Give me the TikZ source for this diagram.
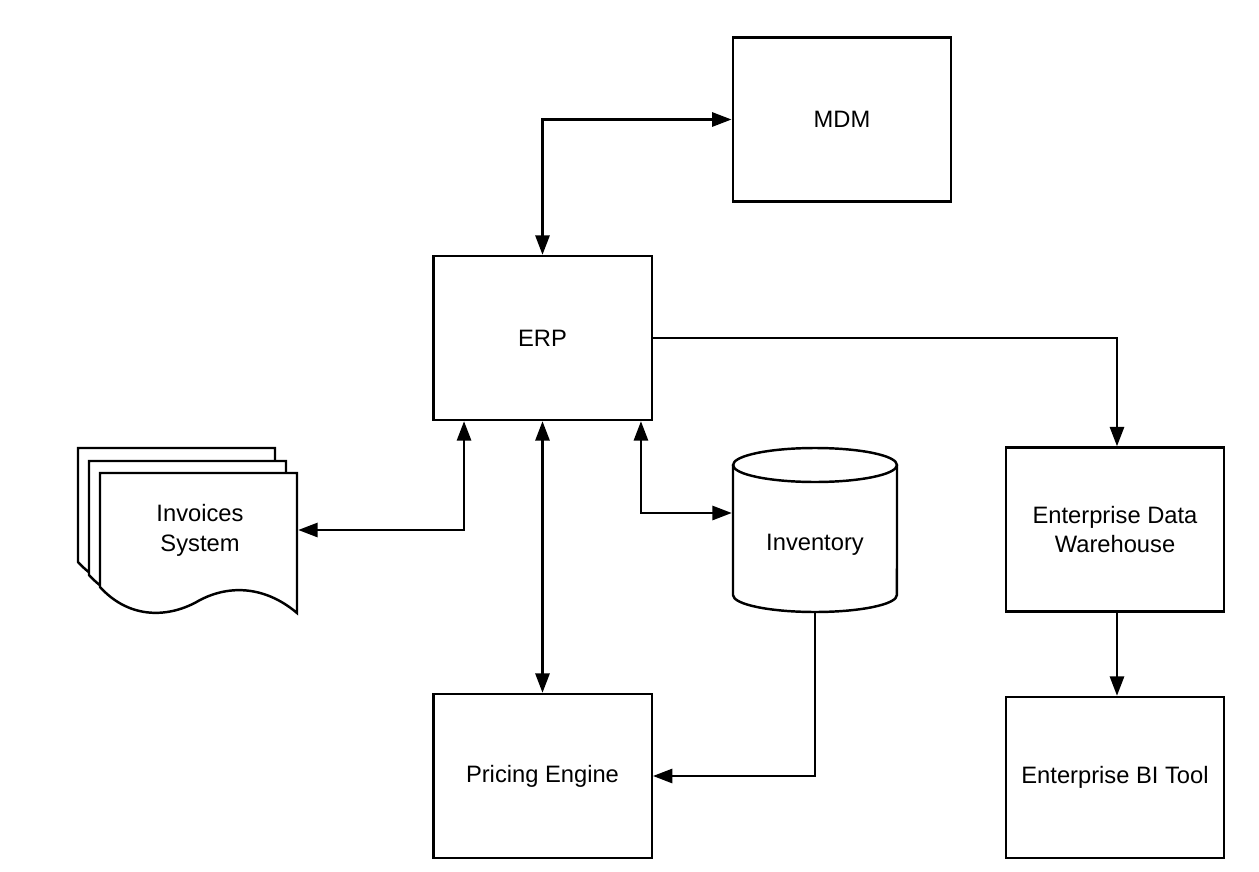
\documentclass[tikz,border=0pt]{standalone}
\usepackage{fontspec}
\setmainfont{Liberation Sans}
\usetikzlibrary{arrows.meta,calc}
\begin{document}
\begin{tikzpicture}[x=0.02cm,y=-0.02cm,
  line width=1.4pt,
  box/.style={draw, minimum width=4.37cm, minimum height=3.28cm, inner sep=0pt, align=center, font=\fontsize{13.5}{17}\selectfont},
  ghost/.style={draw=none, inner sep=0pt},
  lbl/.style={align=center, font=\fontsize{13.5}{17}\selectfont},
  arr/.style={-{Triangle[length=11pt,width=8pt]}},
  biarr/.style={{Triangle[length=11pt,width=8pt]}-{Triangle[length=11pt,width=8pt]}}
]
\useasboundingbox (0,0) rectangle (1259,872);
% boxes
\node[box] (mdm) at (842,119.5) {MDM};
\node[box] (erp) at (542.5,338) {ERP};
\node[box] (edw) at (1115,529.5) {Enterprise Data\\Warehouse};
\node[box, minimum height=3.22cm] (bi) at (1115,777.5) {Enterprise BI Tool};
\node[box] (pricing) at (542.5,776) {Pricing Engine};
% invoices document stack
\def\docpath{(100,473) -- (297,473) -- (297,613) .. controls (270,590) and (235,582) .. (200,600) .. controls (170,618) and (130,620) .. (100,587) -- cycle}
\draw[fill=white, shift={(-22,-25)}] \docpath;
\draw[fill=white, shift={(-11,-12)}] \docpath;
\draw[fill=white] \docpath;
\node[ghost, minimum width=3.94cm, minimum height=2.28cm] (docs) at (198.5,530) {};
\node[lbl] (doctext) at (200,530) {Invoices\\System};
% inventory cylinder
\node[ghost, minimum width=3.28cm, minimum height=3.28cm] (inv) at (815,530) {};
\draw[fill=white] (733,465) -- (733,595) arc[start angle=180, end angle=360, x radius=1.64cm, y radius=0.34cm] -- (897,465);
\draw (815,465) ellipse[x radius=1.64cm, y radius=0.34cm];
\node[lbl] (invtext) at (815,545) {Inventory};
% connectors
\draw[biarr] (erp.north) |- (mdm.west);
\draw[arr] (erp.east) -| ($(edw.north)+(2,0)$);
\draw[arr] ($(edw.south)+(2,0)$) -- ($(bi.north)+(2,0)$);
\draw[biarr] ($(erp.south west)+(32,0)$) |- (docs.east);
\draw[biarr] (erp.south) -- (pricing.north);
\draw[biarr] ($(erp.south east)+(-12,0)$) |- ($(inv.west)+(0,-17)$);
\draw[arr] (inv.south) |- (pricing.east);
\end{tikzpicture}
\end{document}
